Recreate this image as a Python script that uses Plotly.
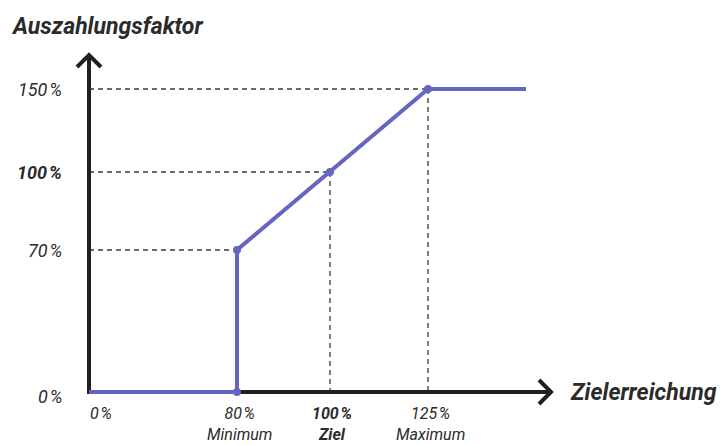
import numpy as np
import plotly.graph_objects as go

# ---- data ----
x_values = [0, 80, 100, 125]          # Zielerreichung (%)
x_labels = ["0%", "80%", "100%", "125%"]
x_sublabels = ["", "Minimum", "Ziel", "Maximum"]
y_values = [0, 70, 100, 150]          # Auszahlungsfaktor (%)
y_labels = ["0%", "70%", "100%", "150%"]
curve_x = [0, 80, 80, 100, 125, 150]
curve_y = [0, 0, 70, 100, 150, 150]
marker_x = [80, 80, 100, 125]
marker_y = [0, 70, 100, 150]

# ---- piecewise (non-linear) axis scales of the drawing ----
X_BREAK_V = [0, 80, 100, 125, 150]
X_BREAK_P = [89, 237, 330, 428, 526]
Y_BREAK_V = [0, 70, 100, 150]
Y_BREAK_P = [392, 250, 172, 89]

def sx(v):
    return np.interp(v, X_BREAK_V, X_BREAK_P)

def sy(v):
    return np.interp(v, Y_BREAK_V, Y_BREAK_P)

def pct(lab):
    return lab.replace("%", "\u200a%")

PURPLE = "#6566c0"
AXIS = "#231f20"
DASH = "#3a3a3a"
TXT = "#2b2b2b"
TICKFONT = "Roboto"
TICKSIZE = 18

fig = go.Figure()

shapes = []
# dashed guide lines
for xv, yv in zip(x_values[1:], [70, 100, 150]):
    shapes.append(dict(type="line", x0=sx(0), x1=sx(xv), y0=sy(yv), y1=sy(yv), layer="below",
                       line=dict(color=DASH, width=1.3, dash="5px,4px")))
for xv, yv in zip(x_values[2:], y_values[2:]):
    shapes.append(dict(type="line", x0=sx(xv), x1=sx(xv), y0=sy(yv), y1=sy(0), layer="below",
                       line=dict(color=DASH, width=1.3, dash="5px,4px")))

# axes with arrows
ax_top = sy(150) - 34
ax_right = sx(150) + 25
shapes.append(dict(type="line", x0=sx(0), x1=sx(0), y0=sy(0) + 2, y1=ax_top, layer="below",
                   line=dict(color=AXIS, width=4)))
shapes.append(dict(type="line", x0=sx(0) - 2, x1=ax_right, y0=sy(0), y1=sy(0), layer="below",
                   line=dict(color=AXIS, width=4)))
fig.update_layout(shapes=shapes)

# arrowheads
fig.add_trace(go.Scatter(x=[sx(0) - 12, sx(0), sx(0) + 12], y=[ax_top + 12, ax_top, ax_top + 12],
                         mode="lines", line=dict(color=AXIS, width=4), hoverinfo="skip",
                         showlegend=False))
fig.add_trace(go.Scatter(x=[ax_right - 12, ax_right, ax_right - 12],
                         y=[sy(0) - 12, sy(0), sy(0) + 12],
                         mode="lines", line=dict(color=AXIS, width=4), hoverinfo="skip",
                         showlegend=False))

# payout curve
fig.add_trace(go.Scatter(x=sx(curve_x), y=sy(curve_y), mode="lines",
                         line=dict(color=PURPLE, width=4), hoverinfo="skip", showlegend=False))
fig.add_trace(go.Scatter(x=sx(marker_x), y=sy(marker_y), mode="markers",
                         marker=dict(color=PURPLE, size=8), hoverinfo="skip", showlegend=False))

ann = []
ann.append(dict(x=9, y=26, text="<b><i>Auszahlungsfaktor</i></b>", showarrow=False,
                xanchor="left", yanchor="middle",
                font=dict(family="Roboto", size=23, color=TXT)))
ann.append(dict(x=568, y=sy(0), text="<b><i>Zielerreichung</i></b>", showarrow=False,
                xanchor="left", yanchor="middle",
                font=dict(family="Roboto", size=23, color=TXT)))
for v, lab in zip(y_values, y_labels):
    t = f"<i>{pct(lab)}</i>"
    if v == 100:
        t = f"<b>{t}</b>"
    ann.append(dict(x=64, y=sy(v) + (4 if v == 0 else 0), text=t, showarrow=False,
                    xanchor="right", yanchor="middle",
                    font=dict(family=TICKFONT, size=TICKSIZE, color=TXT)))
for v, lab, sub in zip(x_values, x_labels, x_sublabels):
    t = pct(lab) + (f"<br>{sub}" if sub else "")
    t = f"<i>{t}</i>"
    if v == 100:
        t = f"<b>{t}</b>"
    xp = sx(v) + (12 if v == 0 else 2)
    if sub:
        ann.append(dict(x=xp, y=445, text=t, showarrow=False, xanchor="center",
                        yanchor="bottom", borderpad=0,
                        font=dict(family=TICKFONT, size=16, color=TXT)))
    else:
        ann.append(dict(x=xp, y=413, text=t, showarrow=False, xanchor="center",
                        yanchor="middle", font=dict(family=TICKFONT, size=16, color=TXT)))

fig.update_layout(
    annotations=ann,
    width=721, height=445,
    margin=dict(l=0, r=0, t=0, b=0),
    paper_bgcolor="white", plot_bgcolor="white",
    xaxis=dict(range=[0, 721], visible=False, fixedrange=True),
    yaxis=dict(range=[445, 0], visible=False, fixedrange=True),
)
fig.write_html("out.html")
